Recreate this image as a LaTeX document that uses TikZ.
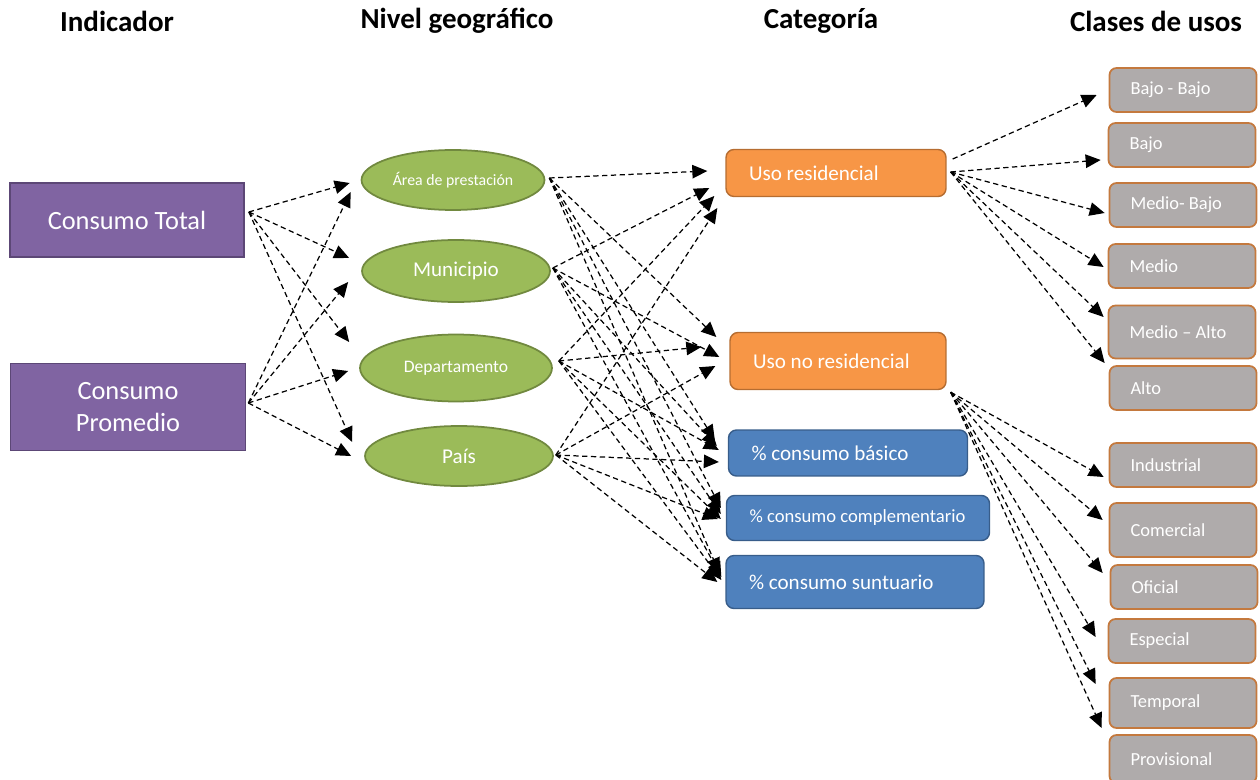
\documentclass[tikz,border=0pt]{standalone}
\usepackage{fontspec}
\setmainfont{Carlito}
\usepackage{xcolor}
\usepackage{tikz}
\usetikzlibrary{shapes.geometric, arrows.meta, calc}
\definecolor{purplefill}{RGB}{128,100,162}
\definecolor{purpleline}{RGB}{92,71,118}
\definecolor{greenfill}{RGB}{155,187,89}
\definecolor{greenline}{RGB}{113,137,63}
\definecolor{orangefill}{RGB}{247,150,70}
\definecolor{orangeline}{RGB}{182,109,49}
\definecolor{bluefill}{RGB}{79,129,189}
\definecolor{blueline}{RGB}{56,93,138}
\definecolor{classfill}{RGB}{175,171,171}
\definecolor{classline}{RGB}{196,121,62}
\tikzset{
    header/.style={font=\fontsize{16.5}{20}\selectfont\bfseries},
    indicator/.style={rectangle, draw=purpleline, fill=purplefill, line width=1pt, text=white, align=center, font=\fontsize{15}{18.5}\selectfont},
    level/.style={ellipse, draw=greenline, fill=greenfill, line width=1pt, text=white, inner sep=0pt},
    usebox/.style={rectangle, rounded corners=0.16cm, draw=orangeline, fill=orangefill, line width=0.8pt, text=white, align=flush left, inner xsep=0.46cm, font=\fontsize{12}{14}\selectfont},
    sharebox/.style={rectangle, rounded corners=0.16cm, draw=blueline, fill=bluefill, line width=0.8pt, text=white, align=flush left, inner xsep=0.46cm, font=\fontsize{12}{14}\selectfont},
    classbox/.style={rectangle, rounded corners=0.14cm, draw=classline, fill=classfill, line width=1pt, text=white, align=flush left, inner xsep=0.42cm, text width=2.1cm, minimum height=0.88cm, font=\fontsize{10.5}{12.6}\selectfont},
    link/.style={-{Triangle[length=0.3cm, width=0.27cm]}, line width=0.7pt, dash pattern=on 3pt off 2pt}
}
\begin{document}
\begin{tikzpicture}[x=0.02cm, y=-0.02cm]
    \useasboundingbox (0,0) rectangle (1260,780);
    \clip (0,0) rectangle (1260,780);

    % Column headers
    \node[header] (hind) at (117,21) {Indicador};
    \node[header] (hgeo) at (457,21) {Nivel geográfico};
    \node[header] (hcat) at (821,21) {Categoría};
    \node[header] (hcls) at (1156,21) {Clases de usos};

    % Indicators
    \node[indicator, minimum width=4.68cm, minimum height=1.48cm] (total) at (127,220) {Consumo Total};
    \node[indicator, minimum width=4.7cm, minimum height=1.74cm] (prom) at (128,407) {Consumo\\ Promedio};

    % Geographic levels
    \node[level, minimum width=3.66cm, minimum height=1.2cm, font=\fontsize{9}{11}\selectfont] (area) at (453,180) {Área de prestación};
    \node[level, minimum width=3.76cm, minimum height=1.24cm, font=\fontsize{12}{14}\selectfont] (muni) at (456,271) {Municipio};
    \node[level, minimum width=3.84cm, minimum height=1.34cm, font=\fontsize{10}{12}\selectfont] (dept) at (456,368) {Departamento};
    \node[level, minimum width=3.76cm, minimum height=1.2cm, font=\fontsize{12}{14}\selectfont] (pais) at (459,456) {País};

    % Categories
    \node[usebox, text width=3.48cm, minimum height=0.94cm] (resid) at (836,173) {Uso residencial};
    \node[usebox, text width=3.4cm, minimum height=1.14cm] (nores) at (838,361) {Uso no residencial};
    \node[sharebox, text width=3.86cm, minimum height=0.92cm] (basic) at (848,453) {\% consumo básico};
    \node[sharebox, text width=4.34cm, minimum height=0.9cm, font=\fontsize{10.6}{12.6}\selectfont] (compl) at (858,518) {\mbox{\% consumo complementario}};
    \node[sharebox, text width=4.24cm, minimum height=1.06cm] (suntu) at (855,582) {\% consumo suntuario};

    % Use classes
    \node[classbox] (bb) at (1183,90) {Bajo - Bajo};
    \node[classbox] (bj) at (1182,145) {Bajo};
    \node[classbox] (mb) at (1183,205) {Medio- Bajo};
    \node[classbox] (md) at (1182,266) {Medio};
    \node[classbox, minimum height=1.06cm] (ma) at (1182,332) {Medio – Alto};
    \node[classbox] (al) at (1183,388) {Alto};
    \node[classbox] (ind) at (1183,465) {Industrial};
    \node[classbox, minimum height=1.08cm] (com) at (1183,530) {Comercial};
    \node[classbox] (ofi) at (1184,587) {Oficial};
    \node[classbox] (esp) at (1182,641) {Especial};
    \node[classbox, minimum height=1cm] (tem) at (1183,703) {Temporal};
    \node[classbox, minimum height=0.96cm] (pro) at (1183,759) {Provisional};

    % Outlets
    \coordinate (totalout) at ($(total.east)+(4,-8)$);
    \coordinate (promout) at ($(prom.east)+(2,-4)$);
    \coordinate (areaout) at ($(area.east)+(4,-2)$);
    \coordinate (muniout) at ($(muni.east)+(2,-3)$);
    \coordinate (deptout) at ($(dept.east)+(6,-7)$);
    \coordinate (paisout) at ($(pais.east)+(2,-1)$);
    \coordinate (residout) at ($(resid.east)+(4,-1)$);
    \coordinate (noresout) at ($(nores.south east)+(4,2)$);

    % Indicator -> level
    \draw[link] (totalout) -- ($(area.west)+(-11,3)$);
    \draw[link] (totalout) -- ($(muni.west)+(-12,-13)$);
    \draw[link] (totalout) -- ($(dept.west)+(-10,-26)$);
    \draw[link] (totalout) -- ($(pais.west)+(-12,-14)$);
    \draw[link] (promout) -- ($(area.west)+(-10,12)$);
    \draw[link] (promout) -- ($(muni.west)+(-13,11)$);
    \draw[link] (promout) -- ($(dept.west)+(-11,3)$);
    \draw[link] (promout) -- ($(pais.west)+(-13,0)$);

    % Level -> category
    \draw[link] (areaout) -- ($(resid.west)+(-18,-2)$);
    \draw[link] (areaout) -- ($(nores.west)+(-13,-24)$);
    \draw[link] (areaout) -- ($(basic.west)+(-13,-13)$);
    \draw[link] (areaout) -- ($(compl.west)+(-5,-10)$);
    \draw[link] (areaout) -- ($(suntu.west)+(-6,-9)$);
    \draw[link] (muniout) -- ($(resid.west)+(-16,15)$);
    \draw[link] (muniout) -- ($(nores.west)+(-10,-4)$);
    \draw[link] (muniout) -- ($(basic.west)+(-11,-7)$);
    \draw[link] (muniout) -- ($(compl.west)+(-5,-4)$);
    \draw[link] (muniout) -- ($(suntu.west)+(-4,-5)$);
    \draw[link] (deptout) -- ($(resid.west)+(-11,23)$);
    \draw[link] (deptout) -- ($(nores.west)+(-28,-14)$);
    \draw[link] (deptout) -- ($(basic.west)+(-9,-3)$);
    \draw[link] (deptout) -- ($(compl.west)+(-5,1)$);
    \draw[link] (deptout) -- ($(suntu.west)+(-4,-2)$);
    \draw[link] (paisout) -- ($(resid.west)+(-8,35)$);
    \draw[link] (paisout) -- ($(nores.west)+(-14,5)$);
    \draw[link] (paisout) -- ($(basic.west)+(-9,9)$);
    \draw[link] (paisout) -- ($(compl.west)+(-8,1)$);
    \draw[link] (paisout) -- ($(suntu.west)+(-8,0)$);

    % Category -> class
    \draw[link] ($(resid.east)+(6,-14)$) -- ($(bb.west)+(-12,5)$);
    \draw[link] (residout) -- ($(bj.west)+(-7,15)$);
    \draw[link] (residout) -- ($(mb.west)+(-4,8)$);
    \draw[link] (residout) -- ($(md.west)+(-4,1)$);
    \draw[link] (residout) -- ($(ma.west)+(-4,-15)$);
    \draw[link] (residout) -- ($(al.west)+(-4,-25)$);
    \draw[link] (noresout) -- ($(ind.west)+(-5,12)$);
    \draw[link] (noresout) -- ($(com.west)+(-6,-10)$);
    \draw[link] (noresout) -- ($(ofi.west)+(-7,-14)$);
    \draw[link] (noresout) -- ($(esp.west)+(-12,-4)$);
    \draw[link] (noresout) -- ($(tem.west)+(-13,-19)$);
    \draw[link] (noresout) -- ($(pro.west)+(-7,-31)$);
\end{tikzpicture}
\end{document}
